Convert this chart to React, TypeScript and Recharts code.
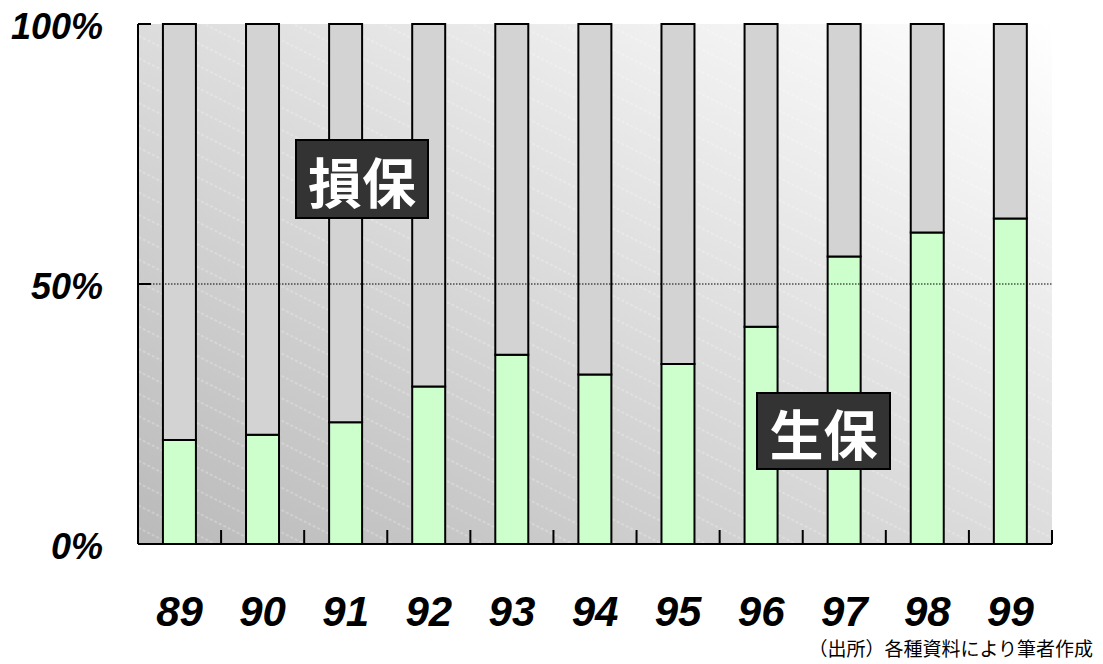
import React from 'react';
import {
  BarChart,
  Bar,
  XAxis,
  YAxis,
  CartesianGrid,
  ReferenceLine,
} from 'recharts';

// Fiscal years (two-digit)
const years = ['89', '90', '91', '92', '93', '94', '95', '96', '97', '98', '99'];
// 生保 (life insurance) share, %
const lifeShare = [20.0, 21.0, 23.4, 30.3, 36.4, 32.6, 34.6, 41.8, 55.3, 59.9, 62.6];
// 損保 (non-life insurance) share, %
const nonLifeShare = [80.0, 79.0, 76.6, 69.7, 63.6, 67.4, 65.4, 58.2, 44.7, 40.1, 37.4];
const yTicks = [0, 50, 100];

const data = years.map((y, i) => ({
  year: y,
  life: lifeShare[i],
  nonLife: nonLifeShare[i],
}));

const LATIN = '"Liberation Sans", Arial, sans-serif';
const CJK = '"Noto Sans CJK JP", "Noto Sans", sans-serif';

const YTick = (props: any) => {
  const { x, y, payload } = props;
  return (
    <g>
      <line x1={x} y1={y} x2={x + 13} y2={y} stroke="#000" strokeWidth={2} />
      <text
        x={x - 35}
        y={y + 15}
        textAnchor="end"
        fontFamily={LATIN}
        fontWeight="bold"
        fontStyle="italic"
        fontSize={36}
        fill="#000"
      >
        {payload.value}%
      </text>
    </g>
  );
};

const XTick = (props: any) => {
  const { x, y, payload } = props;
  const half = payload.offset ?? 41.5;
  return (
    <g>
      <line x1={x + half} y1={y} x2={x + half} y2={y - 14} stroke="#000" strokeWidth={2} />
      <text
        x={x}
        y={y + 82}
        textAnchor="middle"
        fontFamily={LATIN}
        fontWeight="bold"
        fontStyle="italic"
        fontSize={42}
        fill="#000"
      >
        {payload.value}
      </text>
    </g>
  );
};

const TagBox = ({ x, y, w, h, text }: { x: number; y: number; w: number; h: number; text: string }) => (
  <g>
    <rect x={x} y={y} width={w} height={h} fill="#333333" stroke="#000" strokeWidth={2} />
    <text
      x={x + w / 2}
      y={y + h / 2 + 1}
      textAnchor="middle"
      dominantBaseline="central"
      fontFamily={CJK}
      fontWeight="bold"
      fontSize={54}
      fill="#ffffff"
    >
      {text}
    </text>
  </g>
);

export default function App() {
  return (
    <div style={{ position: 'absolute', left: 0, top: 0, width: 1103, height: 664, background: '#fff' }}>
      <BarChart
        width={1103}
        height={664}
        data={data}
        margin={{ top: 24, right: 51, bottom: 0, left: 0 }}
        barCategoryGap="30%"
      >
        <defs>
          <linearGradient id="plotBg" x1="0" y1="1" x2="1" y2="0">
            <stop offset="0%" stopColor="#bababa" />
            <stop offset="100%" stopColor="#ffffff" />
          </linearGradient>
          <pattern
            id="plotStripes"
            patternUnits="userSpaceOnUse"
            width={40}
            height={20}
            patternTransform="rotate(26.6)"
          >
            <line x1={0} y1={10} x2={40} y2={10} stroke="#ffffff" strokeOpacity={0.45} strokeWidth={1} strokeDasharray="3 2" />
          </pattern>
        </defs>
        <CartesianGrid fill="url(#plotBg)" horizontal={false} vertical={false} />
        <CartesianGrid fill="url(#plotStripes)" horizontal={false} vertical={false} />
        <XAxis
          dataKey="year"
          height={120}
          axisLine={{ stroke: '#000', strokeWidth: 2 }}
          tickLine={false}
          tickSize={0}
          tickMargin={0}
          tick={<XTick />}
          interval={0}
        />
        <XAxis xAxisId="top" orientation="top" dataKey="year" height={0} tick={false} tickLine={false}
          axisLine={{ stroke: '#9a9ac8', strokeWidth: 1.5, strokeDasharray: '2 2' }} />
        <YAxis
          domain={[0, 100]}
          ticks={yTicks}
          width={138}
          axisLine={{ stroke: '#000', strokeWidth: 2 }}
          tickLine={false}
          tickSize={0}
          tickMargin={0}
          tick={<YTick />}
          interval={0}
        />
        <YAxis yAxisId="right" orientation="right" width={0} domain={[0, 100]} tick={false} tickLine={false}
          axisLine={{ stroke: '#a8a8d0', strokeWidth: 1.5 }} />
        <ReferenceLine y={50} stroke="#000" strokeWidth={1} strokeDasharray="1.5 1.5" />
        <Bar dataKey="life" stackId="s" fill="#ccffcc" stroke="#000" strokeWidth={2} isAnimationActive={false} />
        <Bar dataKey="nonLife" stackId="s" fill="#d3d3d3" stroke="#000" strokeWidth={2} isAnimationActive={false} />
      </BarChart>
      <svg
        width={1103}
        height={664}
        style={{ position: 'absolute', left: 0, top: 0, pointerEvents: 'none' }}
      >
        <TagBox x={296} y={140} w={132} h={78} text="損保" />
        <TagBox x={757} y={393} w={133} h={76} text="生保" />
        <text x={1093} y={656} textAnchor="end" fontFamily={CJK} fontSize={19} fill="#000">
          （出所）各種資料により筆者作成
        </text>
      </svg>
    </div>
  );
}
